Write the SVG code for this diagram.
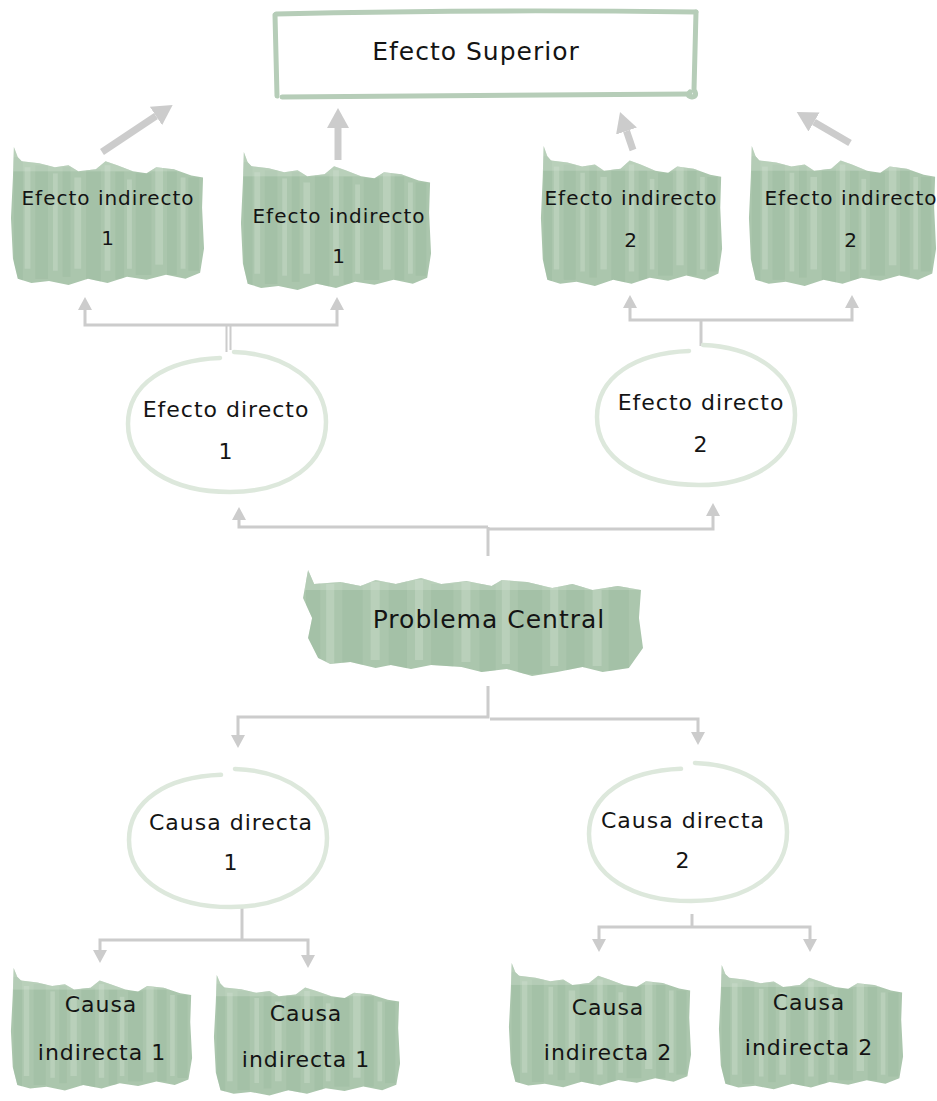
<svg xmlns="http://www.w3.org/2000/svg" xmlns:xlink="http://www.w3.org/1999/xlink" width="937" height="1101" viewBox="0 0 937 1101">
  <style>
    .t { font-family: "Segoe Print", "Comic Sans MS", "DejaVu Sans", sans-serif; fill: #141414; text-anchor: middle; letter-spacing: 1px; }
    .s18 { font-size: 20px; }
    .s20 { font-size: 22px; }
    .s24 { font-size: 25px; }
    .link { fill: none; stroke: #cccccc; stroke-width: 3; }
    .big { fill: none; stroke: #cccccc; stroke-width: 7; }
    .ring { fill: none; stroke: #dde8dc; stroke-width: 4.5; stroke-linecap: round; }
    .frame { fill: none; stroke: #b6cdb8; stroke-width: 5; stroke-linecap: round; }
    .wash { fill: #abc6ad; }
    .dk { fill: #93b397; opacity: 0.28; }
    .lt { fill: #d3e2d3; opacity: 0.35; }
  </style>
  <defs>
    <marker id="head" viewBox="0 0 13 14" refX="0" refY="7" markerWidth="13" markerHeight="14" markerUnits="userSpaceOnUse" orient="auto-start-reverse">
      <path d="M0,0 L13,7 L0,14 Z" fill="#cccccc"/>
    </marker>
    <marker id="bighead" viewBox="0 0 20 22" refX="0" refY="11" markerWidth="20" markerHeight="22" markerUnits="userSpaceOnUse" orient="auto">
      <path d="M0,0 L20,11 L0,22 Z" fill="#cccccc"/>
    </marker>
    <!-- brushed paint patch, tall -->
    <clipPath id="paintClip">
      <path d="M4,0 L8,10 L12,14 L30,16 L46,20 L60,18 L70,24 L88,22 L98,14 L110,18 L126,24 L140,26 L150,20 L168,22 L186,28 L198,30 L197,60 L199,100 L195,124 L180,130 L160,126 L140,131 L120,128 L100,134 L80,130 L60,136 L40,132 L22,134 L8,130 L3,110 L1,70 L3,30 Z"/>
    </clipPath>
    <symbol id="paint" viewBox="0 0 200 140" preserveAspectRatio="none">
      <path class="wash" d="M4,0 L8,10 L12,14 L30,16 L46,20 L60,18 L70,24 L88,22 L98,14 L110,18 L126,24 L140,26 L150,20 L168,22 L186,28 L198,30 L197,60 L199,100 L195,124 L180,130 L160,126 L140,131 L120,128 L100,134 L80,130 L60,136 L40,132 L22,134 L8,130 L3,110 L1,70 L3,30 Z"/>
      <g clip-path="url(#paintClip)">
        <rect class="dk" x="4" y="10" width="9" height="122"/>
        <rect class="lt" x="15" y="20" width="6" height="100"/>
        <rect class="dk" x="26" y="18" width="13" height="112"/>
        <rect class="lt" x="44" y="26" width="5" height="96"/>
        <rect class="dk" x="54" y="20" width="8" height="108"/>
        <rect class="lt" x="66" y="30" width="7" height="90"/>
        <rect class="dk" x="78" y="22" width="15" height="112"/>
        <rect class="lt" x="97" y="18" width="6" height="104"/>
        <rect class="dk" x="108" y="24" width="9" height="106"/>
        <rect class="lt" x="120" y="32" width="5" height="88"/>
        <rect class="dk" x="129" y="26" width="16" height="100"/>
        <rect class="lt" x="149" y="20" width="8" height="96"/>
        <rect class="dk" x="161" y="22" width="10" height="104"/>
        <rect class="lt" x="175" y="30" width="5" height="90"/>
        <rect class="dk" x="183" y="30" width="11" height="92"/>
        <rect class="lt" x="0" y="0" width="200" height="24"/>
      </g>
    </symbol>
    <!-- brushed paint patch, wide -->
    <clipPath id="wideClip">
      <path d="M8,2 L14,16 L40,14 L60,18 L75,12 L95,16 L120,10 L140,16 L165,13 L190,18 L200,12 L225,14 L250,20 L270,16 L290,22 L315,18 L338,22 L336,50 L340,80 L326,100 L300,104 L280,99 L255,104 L230,108 L205,101 L180,104 L160,99 L130,97 L110,101 L90,97 L75,100 L50,94 L30,96 L18,90 L8,70 L12,50 L3,30 Z"/>
    </clipPath>
    <symbol id="wide" viewBox="0 0 340 112" preserveAspectRatio="none">
      <path class="wash" d="M8,2 L14,16 L40,14 L60,18 L75,12 L95,16 L120,10 L140,16 L165,13 L190,18 L200,12 L225,14 L250,20 L270,16 L290,22 L315,18 L338,22 L336,50 L340,80 L326,100 L300,104 L280,99 L255,104 L230,108 L205,101 L180,104 L160,99 L130,97 L110,101 L90,97 L75,100 L50,94 L30,96 L18,90 L8,70 L12,50 L3,30 Z"/>
      <g clip-path="url(#wideClip)">
        <rect class="dk" x="6" y="4" width="14" height="96"/>
        <rect class="lt" x="26" y="16" width="8" height="80"/>
        <rect class="dk" x="42" y="12" width="20" height="86"/>
        <rect class="lt" x="70" y="14" width="9" height="78"/>
        <rect class="dk" x="88" y="12" width="18" height="90"/>
        <rect class="lt" x="114" y="12" width="8" height="80"/>
        <rect class="dk" x="130" y="16" width="22" height="84"/>
        <rect class="lt" x="160" y="14" width="9" height="80"/>
        <rect class="dk" x="178" y="16" width="16" height="90"/>
        <rect class="lt" x="200" y="12" width="8" height="84"/>
        <rect class="dk" x="216" y="14" width="24" height="92"/>
        <rect class="lt" x="248" y="18" width="8" height="80"/>
        <rect class="dk" x="264" y="16" width="18" height="88"/>
        <rect class="lt" x="290" y="22" width="9" height="76"/>
        <rect class="dk" x="306" y="18" width="20" height="86"/>
        <rect class="lt" x="0" y="0" width="340" height="22"/>
      </g>
    </symbol>
    <!-- loose hand-drawn loop -->
    <symbol id="loop" viewBox="0 0 210 150" preserveAspectRatio="none">
      <path class="ring" d="M112,6 C165,8 204,36 204,76 C204,118 166,146 108,146 C50,146 6,120 6,78 C6,38 44,14 98,12"/>
    </symbol>
  </defs>

  <!-- connectors -->
  <g id="connectors">
    <path class="big" d="M102,152 L156,116" marker-end="url(#bighead)"/>
    <path class="big" d="M338,160 V128" marker-end="url(#bighead)"/>
    <path class="big" d="M633,150 L626.5,131" marker-end="url(#bighead)"/>
    <path class="big" d="M850,143 L814,122" marker-end="url(#bighead)"/>

    <path class="link" d="M85,310 V325 H337 V310" marker-start="url(#head)" marker-end="url(#head)"/>
    <path fill="none" stroke="#cccccc" stroke-width="2" d="M226.5,325 V352 M230.5,325 V350"/>

    <path class="link" d="M630,308 V320 H852 V308" marker-start="url(#head)" marker-end="url(#head)"/>
    <path class="link" d="M701,320 V346"/>

    <path class="link" d="M239,520 V527 H488" marker-start="url(#head)"/>
    <path class="link" d="M488,529 H713 V516" marker-end="url(#head)"/>
    <path class="link" d="M488,527 V556"/>

    <path class="link" d="M488,686 V717 H238 V735" marker-end="url(#head)"/>
    <path class="link" d="M490,719 H698 V732" marker-end="url(#head)"/>

    <path class="link" d="M242,906 V940"/>
    <path class="link" d="M242,940 H100 V950" marker-end="url(#head)"/>
    <path class="link" d="M242,940 H308 V955" marker-end="url(#head)"/>

    <path class="link" d="M692,914 V927"/>
    <path class="link" d="M692,927 H599 V939" marker-end="url(#head)"/>
    <path class="link" d="M692,927 H810 V939" marker-end="url(#head)"/>
  </g>

  <!-- top effect -->
  <g id="efecto-superior">
    <path class="frame" d="M276,14 Q480,9 696,12"/>
    <path class="frame" stroke-width="6" d="M275,15 L277,96"/>
    <path class="frame" d="M696,12 L694,90 Q698,96 692,97 Q686,96 690,92"/>
    <path class="frame" d="M690,94 Q480,96 282,97"/>
    <text class="t s24" x="476" y="60">Efecto Superior</text>
  </g>

  <!-- indirect effects -->
  <g id="efecto-indirecto-1a">
    <use href="#paint" x="10" y="147" width="195" height="142"/>
    <text class="t s18" x="108" y="205">Efecto indirecto</text>
    <text class="t s18" x="108" y="245">1</text>
  </g>
  <g id="efecto-indirecto-1b">
    <use href="#paint" x="240" y="152" width="192" height="142"/>
    <text class="t s18" x="339" y="223">Efecto indirecto</text>
    <text class="t s18" x="339" y="263">1</text>
  </g>
  <g id="efecto-indirecto-2a">
    <use href="#paint" x="540" y="146" width="183" height="144"/>
    <text class="t s18" x="631" y="205">Efecto indirecto</text>
    <text class="t s18" x="631" y="247">2</text>
  </g>
  <g id="efecto-indirecto-2b">
    <use href="#paint" x="748" y="146" width="189" height="144"/>
    <text class="t s18" x="851" y="205">Efecto indirecto</text>
    <text class="t s18" x="851" y="247">2</text>
  </g>

  <!-- direct effects -->
  <g id="efecto-directo-1">
    <use href="#loop" x="122" y="346" width="210" height="150"/>
    <text class="t s20" x="226" y="417">Efecto directo</text>
    <text class="t s20" x="226" y="459">1</text>
  </g>
  <g id="efecto-directo-2">
    <use href="#loop" x="591" y="339" width="210" height="150"/>
    <text class="t s20" x="701" y="410">Efecto directo</text>
    <text class="t s20" x="701" y="452">2</text>
  </g>

  <!-- central problem -->
  <g id="problema-central">
    <use href="#wide" x="300" y="568" width="343" height="112"/>
    <text class="t s24" x="489" y="628">Problema Central</text>
  </g>

  <!-- direct causes -->
  <g id="causa-directa-1">
    <use href="#loop" x="123" y="763" width="210" height="148"/>
    <text class="t s20" x="231" y="830">Causa directa</text>
    <text class="t s20" x="231" y="870">1</text>
  </g>
  <g id="causa-directa-2">
    <use href="#loop" x="583" y="757" width="210" height="148"/>
    <text class="t s20" x="683" y="828">Causa directa</text>
    <text class="t s20" x="683" y="868">2</text>
  </g>

  <!-- indirect causes -->
  <g id="causa-indirecta-1a">
    <use href="#paint" x="10" y="968" width="183" height="126"/>
    <text class="t s20" x="101" y="1012">Causa</text>
    <text class="t s20" x="102" y="1060">indirecta 1</text>
  </g>
  <g id="causa-indirecta-1b">
    <use href="#paint" x="213" y="975" width="188" height="124"/>
    <text class="t s20" x="306" y="1021">Causa</text>
    <text class="t s20" x="306" y="1067">indirecta 1</text>
  </g>
  <g id="causa-indirecta-2a">
    <use href="#paint" x="508" y="963" width="184" height="128"/>
    <text class="t s20" x="608" y="1015">Causa</text>
    <text class="t s20" x="608" y="1060">indirecta 2</text>
  </g>
  <g id="causa-indirecta-2b">
    <use href="#paint" x="718" y="965" width="186" height="128"/>
    <text class="t s20" x="809" y="1010">Causa</text>
    <text class="t s20" x="809" y="1055">indirecta 2</text>
  </g>
</svg>
